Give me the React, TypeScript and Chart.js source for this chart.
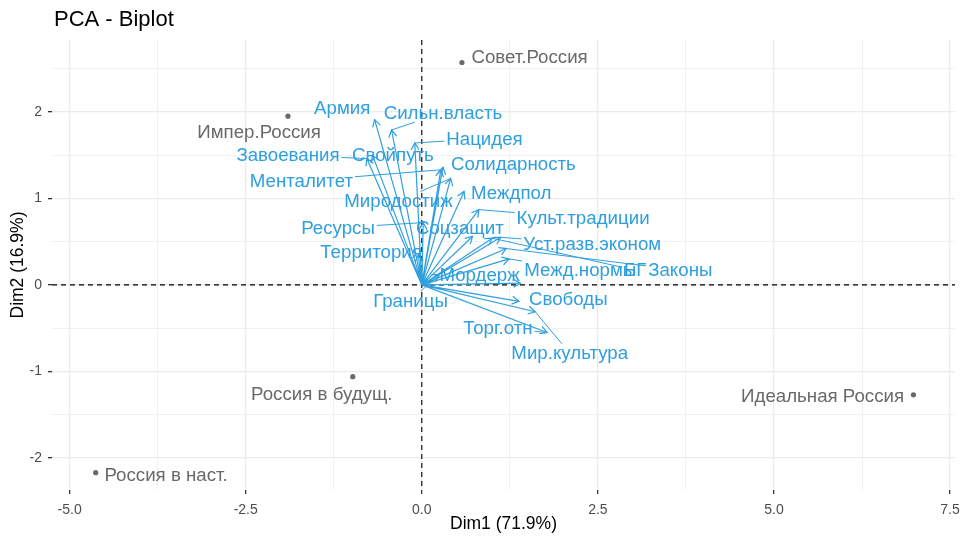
import React, { useEffect, useRef } from "react";
import { Chart, registerables } from "chart.js";
Chart.register(...registerables);

const chartTitle = "PCA - Biplot";
const xAxisTitle = "Dim1 (71.9%)";
const yAxisTitle = "Dim2 (16.9%)";

const xRange = [-5.25, 7.57];
const yRange = [-2.37, 2.83];
const xTickValues = [-5, -3.75, -2.5, -1.25, 0, 1.25, 2.5, 3.75, 5, 6.25, 7.5];
const xMajorTicks = [-5, -2.5, 0, 2.5, 5, 7.5];
const xTickLabels = ["-5.0", "-2.5", "0.0", "2.5", "5.0", "7.5"];
const yTickValues = [-2, -1.5, -1, -0.5, 0, 0.5, 1, 1.5, 2, 2.5];
const yMajorTicks = [-2, -1, 0, 1, 2];
const yTickLabels = ["-2", "-1", "0", "1", "2"];

// Individuals (rows)
const individuals = ["Совет.Россия", "Импер.Россия", "Россия в будущ.", "Россия в наст.", "Идеальная Россия"];
const indX = [0.57, -1.9, -0.98, -4.63, 6.98];
const indY = [2.57, 1.95, -1.06, -2.17, -1.27];
const indLabelX = [1.53, -2.31, -1.42, -3.63, 5.69];
const indLabelY = [2.64, 1.77, -1.26, -2.2, -1.28];

// Variables (arrows)
const variables = [
  "Армия", "Сильн.власть", "Нацидея", "Завоевания", "Свойпуть", "Менталитет",
  "Солидарность", "Миродостиж", "Междпол", "Культ.традиции", "Ресурсы", "Соцзащит",
  "Территория", "БГ", "Уст.разв.эконом", "Законы", "Межд.нормы", "Мордерж",
  "Границы", "Свободы", "Торг.отн", "Мир.культура",
];
const varX = [-0.67, -0.43, -0.1, -0.78, -0.7, 0.27, 0.3, 0.41, 0.6, 0.81, 0.02, 0.72, -0.05, 1.0, 1.12, 1.2, 1.24, 1.4, 0.25, 1.38, 1.78, 1.61];
const varY = [1.91, 1.79, 1.64, 1.46, 1.5, 1.33, 1.36, 1.23, 1.08, 0.87, 0.72, 0.56, 0.35, 0.54, 0.55, 0.42, 0.3, 0.02, 0.12, -0.19, -0.55, -0.31];
const varLabelX = [-1.13, 0.3, 0.89, -1.9, -0.41, -1.71, 1.3, -0.33, 1.27, 2.29, -1.19, 0.54, -0.72, 3.03, 2.42, 3.67, 2.25, 0.82, -0.16, 2.08, 1.08, 2.1];
const varLabelY = [2.05, 1.99, 1.69, 1.5, 1.5, 1.2, 1.4, 0.97, 1.06, 0.77, 0.66, 0.66, 0.38, 0.17, 0.47, 0.17, 0.17, 0.12, -0.18, -0.16, -0.5, -0.79];

const VAR_COLOR = "#2E9FDF";
const IND_COLOR = "#696969";
const FONT = "'Liberation Sans', Arial, sans-serif";
const LABEL_SIZE = 18.7;

function drawLabel(ctx: CanvasRenderingContext2D, text: string, lx: number, ly: number, tx: number, ty: number, color: string, minSeg: number) {
  ctx.font = `${LABEL_SIZE}px ${FONT}`;
  ctx.fillStyle = color;
  ctx.strokeStyle = color;
  ctx.textAlign = "center";
  ctx.textBaseline = "middle";
  const w = ctx.measureText(text).width;
  const hw = w / 2 + 2;
  const hh = LABEL_SIZE * 0.4 + 2;
  const dx = tx - lx;
  const dy = ty - ly;
  if (!(Math.abs(dx) <= hw && Math.abs(dy) <= hh)) {
    const t = Math.min(dx !== 0 ? hw / Math.abs(dx) : Infinity, dy !== 0 ? hh / Math.abs(dy) : Infinity);
    const sx = lx + dx * t;
    const sy = ly + dy * t;
    const d = Math.hypot(tx - sx, ty - sy);
    if (d > minSeg) {
      ctx.lineWidth = 1;
      ctx.beginPath();
      ctx.moveTo(sx, sy);
      ctx.lineTo(tx, ty);
      ctx.stroke();
    }
  }
  ctx.fillText(text, lx, ly + 1);
}

const biplotPlugin = {
  id: "biplot",
  beforeDatasetsDraw(chart: any) {
    const { ctx, chartArea, scales } = chart;
    const px0 = scales.x.getPixelForValue(0);
    const py0 = scales.y.getPixelForValue(0);
    ctx.save();
    ctx.strokeStyle = "#000";
    ctx.lineWidth = 1.1;
    ctx.setLineDash([5, 4]);
    ctx.beginPath();
    ctx.moveTo(px0, chartArea.top);
    ctx.lineTo(px0, chartArea.bottom);
    ctx.moveTo(chartArea.left, py0);
    ctx.lineTo(chartArea.right, py0);
    ctx.stroke();
    ctx.restore();
  },
  afterDatasetsDraw(chart: any) {
    const { ctx, scales } = chart;
    const xs = scales.x;
    const ys = scales.y;
    const ox = xs.getPixelForValue(0);
    const oy = ys.getPixelForValue(0);
    ctx.save();
    ctx.strokeStyle = VAR_COLOR;
    ctx.lineWidth = 1.2;
    const L = 8;
    const half = (30 * Math.PI) / 180;
    variables.forEach((_, i) => {
      const tx = xs.getPixelForValue(varX[i]);
      const ty = ys.getPixelForValue(varY[i]);
      const a = Math.atan2(ty - oy, tx - ox);
      ctx.beginPath();
      ctx.moveTo(tx - L * Math.cos(a - half), ty - L * Math.sin(a - half));
      ctx.lineTo(tx, ty);
      ctx.lineTo(tx - L * Math.cos(a + half), ty - L * Math.sin(a + half));
      ctx.stroke();
    });
    variables.forEach((name, i) => {
      drawLabel(ctx, name, xs.getPixelForValue(varLabelX[i]), ys.getPixelForValue(varLabelY[i]),
        xs.getPixelForValue(varX[i]), ys.getPixelForValue(varY[i]), VAR_COLOR, 9);
    });
    individuals.forEach((name, i) => {
      drawLabel(ctx, name, xs.getPixelForValue(indLabelX[i]), ys.getPixelForValue(indLabelY[i]),
        xs.getPixelForValue(indX[i]), ys.getPixelForValue(indY[i]), IND_COLOR, 30);
    });
    ctx.restore();
  },
  afterDraw(chart: any) {
    const { ctx, chartArea } = chart;
    ctx.save();
    ctx.font = `22px ${FONT}`;
    ctx.fillStyle = "#000";
    ctx.textAlign = "left";
    ctx.textBaseline = "middle";
    ctx.fillText(chartTitle, chartArea.left + 2, 20);
    ctx.restore();
  },
};

export default function App() {
  const ref = useRef<HTMLCanvasElement | null>(null);
  useEffect(() => {
    document.body.style.margin = "0";
    const canvas = ref.current;
    if (!canvas) return;
    const arrowData: any[] = [];
    variables.forEach((_, i) => {
      arrowData.push({ x: 0, y: 0 });
      arrowData.push({ x: varX[i], y: varY[i] });
      arrowData.push({ x: varX[i], y: null });
    });
    const isMajor = (arr: number[], v: number) => arr.some((m) => Math.abs(m - v) < 1e-9);
    const chart = new Chart(canvas, {
      type: "scatter",
      data: {
        datasets: [
          {
            label: "Variables",
            data: arrowData,
            showLine: true,
            spanGaps: false,
            borderColor: VAR_COLOR,
            borderWidth: 1.2,
            pointRadius: 0,
            pointHoverRadius: 0,
          },
          {
            label: "Individuals",
            data: individuals.map((_, i) => ({ x: indX[i], y: indY[i] })),
            backgroundColor: IND_COLOR,
            borderColor: IND_COLOR,
            pointRadius: 2.6,
            borderWidth: 0,
          },
        ],
      },
      options: {
        animation: false,
        responsive: false,
        maintainAspectRatio: false,
        layout: { padding: { top: 40, right: 5, left: 0, bottom: 0 } },
        plugins: { legend: { display: false }, tooltip: { enabled: false }, title: { display: false } },
        scales: {
          x: {
            type: "linear",
            min: xRange[0],
            max: xRange[1],
            afterBuildTicks: (s: any) => {
              s.ticks = xTickValues.map((v) => ({ value: v }));
            },
            afterFit: (s: any) => {
              s.height = 48;
              s.paddingLeft = 0;
              s.paddingRight = 0;
            },
            border: { display: false },
            grid: {
              color: "#EBEBEB",
              lineWidth: (c: any) => (c.tick && isMajor(xMajorTicks, c.tick.value) ? 1.3 : 0.7),
              tickColor: (c: any) => (c.tick && isMajor(xMajorTicks, c.tick.value) ? "#333333" : "rgba(0,0,0,0)"),
              tickLength: 4,
              drawTicks: true,
            },
            ticks: {
              autoSkip: false,
              maxRotation: 0,
              padding: 8,
              color: "#4D4D4D",
              font: { family: FONT, size: 14 },
              callback: (v: any) => {
                const i = xMajorTicks.findIndex((m) => Math.abs(m - v) < 1e-9);
                return i >= 0 ? xTickLabels[i] : "";
              },
            },
            title: {
              display: true,
              text: xAxisTitle,
              color: "#000",
              font: { family: FONT, size: 17.5 },
              padding: { top: 0, bottom: 3 },
            },
          },
          y: {
            type: "linear",
            min: yRange[0],
            max: yRange[1],
            afterBuildTicks: (s: any) => {
              s.ticks = yTickValues.map((v) => ({ value: v }));
            },
            afterFit: (s: any) => {
              s.width = 52;
              s.paddingTop = 0;
              s.paddingBottom = 0;
            },
            border: { display: false },
            grid: {
              color: "#EBEBEB",
              lineWidth: (c: any) => (c.tick && isMajor(yMajorTicks, c.tick.value) ? 1.3 : 0.7),
              tickColor: (c: any) => (c.tick && isMajor(yMajorTicks, c.tick.value) ? "#333333" : "rgba(0,0,0,0)"),
              tickLength: 4,
              drawTicks: true,
            },
            ticks: {
              autoSkip: false,
              padding: 6,
              color: "#4D4D4D",
              font: { family: FONT, size: 14 },
              callback: (v: any) => {
                const i = yMajorTicks.findIndex((m) => Math.abs(m - v) < 1e-9);
                return i >= 0 ? yTickLabels[i] : "";
              },
            },
            title: {
              display: true,
              text: yAxisTitle,
              color: "#000",
              font: { family: FONT, size: 17.5 },
              padding: { top: 8, bottom: 0 },
            },
          },
        },
      },
      plugins: [biplotPlugin],
    } as any);
    return () => chart.destroy();
  }, []);
  return (
    <div style={{ width: 960, height: 538 }}>
      <canvas ref={ref} width={960} height={538} />
    </div>
  );
}
